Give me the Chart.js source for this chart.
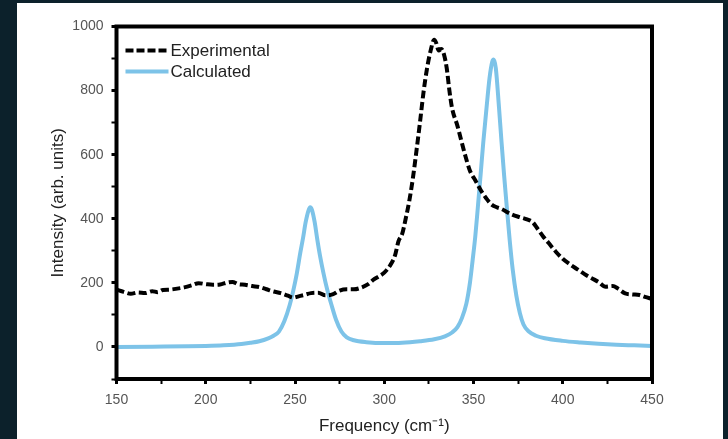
<!DOCTYPE html>
<html>
<head>
<meta charset="utf-8">
<script src="https://cdn.jsdelivr.net/npm/chart.js@4.4.1/dist/chart.umd.min.js"></script>
<style>
  html, body { margin: 0; padding: 0; background: #0c212b; }
  body { width: 728px; height: 439px; position: relative; overflow: hidden; }
  #panel { position: absolute; left: 17px; top: 3px; width: 706px; height: 436px; background: #fff; }
  canvas { display: block; }
</style>
</head>
<body>
<div id="panel"><canvas id="spectrum" width="706" height="436"></canvas></div>
<script>
// Raman spectrum
const expFreq = [150,154,158,162,166,170,173,176,180,184,188,192,196,200,204,208,212,215,218,222,
  226,230,234,238,242,246,249,252,255,259,263,267,271,275,279,283,287,291,294,297,
  300,303,306,308,310,312,314,316,318,320,322,324,326,328,329,330.5,332,333.5,335,336.5,
  338,341,345,348,351,354,357,360,363,366,369,372,376,380,383,386,389,392,396,400,
  404,408,412,416,420,424,428,431,435,439,443,446,450];
const expIntensity = [179,172,166,170,168,174,171,178,179,182,186,192,199,196,194,195,201,203,196,194,
  190,187,180,173,168,160,154,158,162,168,169,161,164,176,180,180,185,196,210,220,
  232,252,285,330,352,400,455,525,610,700,795,870,925,959,950,925,930,912,870,800,
  745,690,605,550,520,490,465,445,436,430,420,412,405,398,390,368,345,325,298,275,
  258,243,228,215,203,188,190,182,167,164,162,156,150];

const calcFreq = [150,170,190,200,210,220,225,230,235,238,241,244,247,249,251,253,254.5,256,257.5,258.5,
  259.5,261,262.5,264,266,268,270.5,273,276,279,283,290,300,310,320,328,334,338,341,343.5,
  346,348,349.5,351,352.5,354,355.5,357.3,359,360.5,361.3,362.5,364.3,365.7,367.1,368.6,370.3,372,374,376,
  378,381,385,390,400,410,420,430,440,450];
const calcIntensity = [0,1,2,3,5,9,13,18,27,35,48,80,130,175,229,295,340,390,425,436,
  428,390,335,285,229,180,130,85,48,30,21,15,12,13,18,24,33,45,62,90,
  135,200,270,345,440,539,640,746,840,890,897,870,746,640,539,440,332,240,160,105,
  70,48,35,27,19,14,10,7,5,3];

const seriesNames = ["Experimental", "Calculated"];
const xTicks = [150, 200, 250, 300, 350, 400, 450];
const yTicks = [0, 200, 400, 600, 800, 1000];

const toPoints = (xs, ys) => xs.map((x, i) => ({ x: x, y: ys[i] }));

const BLUE = "#7dc3e8";
const FONT = "'Liberation Sans', Arial, sans-serif";

// black box all round the plot area, plus the legend inside it
const framePlugin = {
  id: "frame",
  afterDatasetsDraw(chart) {
    const { ctx, chartArea: a } = chart;
    ctx.save();
    ctx.strokeStyle = "#000";
    ctx.lineWidth = 4;
    ctx.strokeRect(a.left, a.top, a.right - a.left, a.bottom - a.top);

    // legend
    const lx = a.left + 9, rows = [a.top + 24, a.top + 45];
    ctx.font = "17px " + FONT;
    ctx.fillStyle = "#222";
    ctx.textBaseline = "middle";
    rows.forEach((y, i) => {
      ctx.beginPath();
      ctx.lineWidth = 4;
      if (i === 0) {
        ctx.strokeStyle = "#000";
        ctx.setLineDash([8, 3]);
      } else {
        ctx.strokeStyle = BLUE;
        ctx.setLineDash([]);
      }
      ctx.moveTo(lx, y);
      ctx.lineTo(lx + 43, y);
      ctx.stroke();
      ctx.fillText(seriesNames[i], lx + 45, y + 1);
    });
    ctx.restore();
  }
};

new Chart(document.getElementById("spectrum"), {
  type: "line",
  data: {
    datasets: [
      {
        label: seriesNames[0],
        data: toPoints(expFreq, expIntensity),
        borderColor: "#000",
        borderWidth: 4,
        borderDash: [8, 3.5],
        pointRadius: 0,
        cubicInterpolationMode: "monotone"
      },
      {
        label: seriesNames[1],
        data: toPoints(calcFreq, calcIntensity),
        borderColor: BLUE,
        borderWidth: 4,
        pointRadius: 0,
        cubicInterpolationMode: "monotone"
      }
    ]
  },
  options: {
    responsive: false,
    animation: false,
    layout: { padding: { top: 23.5, right: 71, bottom: 0, left: 0 } },
    plugins: {
      legend: { display: false },
      tooltip: { enabled: false }
    },
    scales: {
      x: {
        type: "linear",
        min: 150,
        max: 450,
        afterFit: (axis) => { axis.height = 60; },
        border: { display: false },
        grid: {
          drawOnChartArea: false,
          tickLength: 5,
          tickColor: "#000",
          tickWidth: (c) => (c.tick && xTicks.includes(c.tick.value) ? 3 : 2)
        },
        ticks: {
          stepSize: 25,
          autoSkip: false,
          maxRotation: 0,
          padding: 8,
          color: "#555",
          font: { family: FONT, size: 14 },
          callback: (v) => (xTicks.includes(v) ? v : "")
        },
        title: {
          display: true,
          text: "Frequency (cm\u207B\u00B9)",
          color: "#222",
          font: { family: FONT, size: 17 },
          padding: { top: 0, bottom: 2 }
        }
      },
      y: {
        min: -100,
        max: 1000,
        afterFit: (axis) => { axis.width = 99.5; },
        border: { display: false },
        grid: {
          drawOnChartArea: false,
          tickLength: 5,
          tickColor: "#000",
          tickWidth: (c) => (c.tick && yTicks.includes(c.tick.value) ? 3 : 2)
        },
        ticks: {
          stepSize: 100,
          autoSkip: false,
          padding: 8,
          color: "#555",
          font: { family: FONT, size: 14 },
          callback: (v) => (yTicks.includes(v) ? v : "")
        },
        title: {
          display: true,
          text: "Intensity (arb. units)",
          color: "#222",
          font: { family: FONT, size: 17 },
          padding: { top: 31, bottom: 0 }
        }
      }
    }
  },
  plugins: [framePlugin]
});
</script>
</body>
</html>
